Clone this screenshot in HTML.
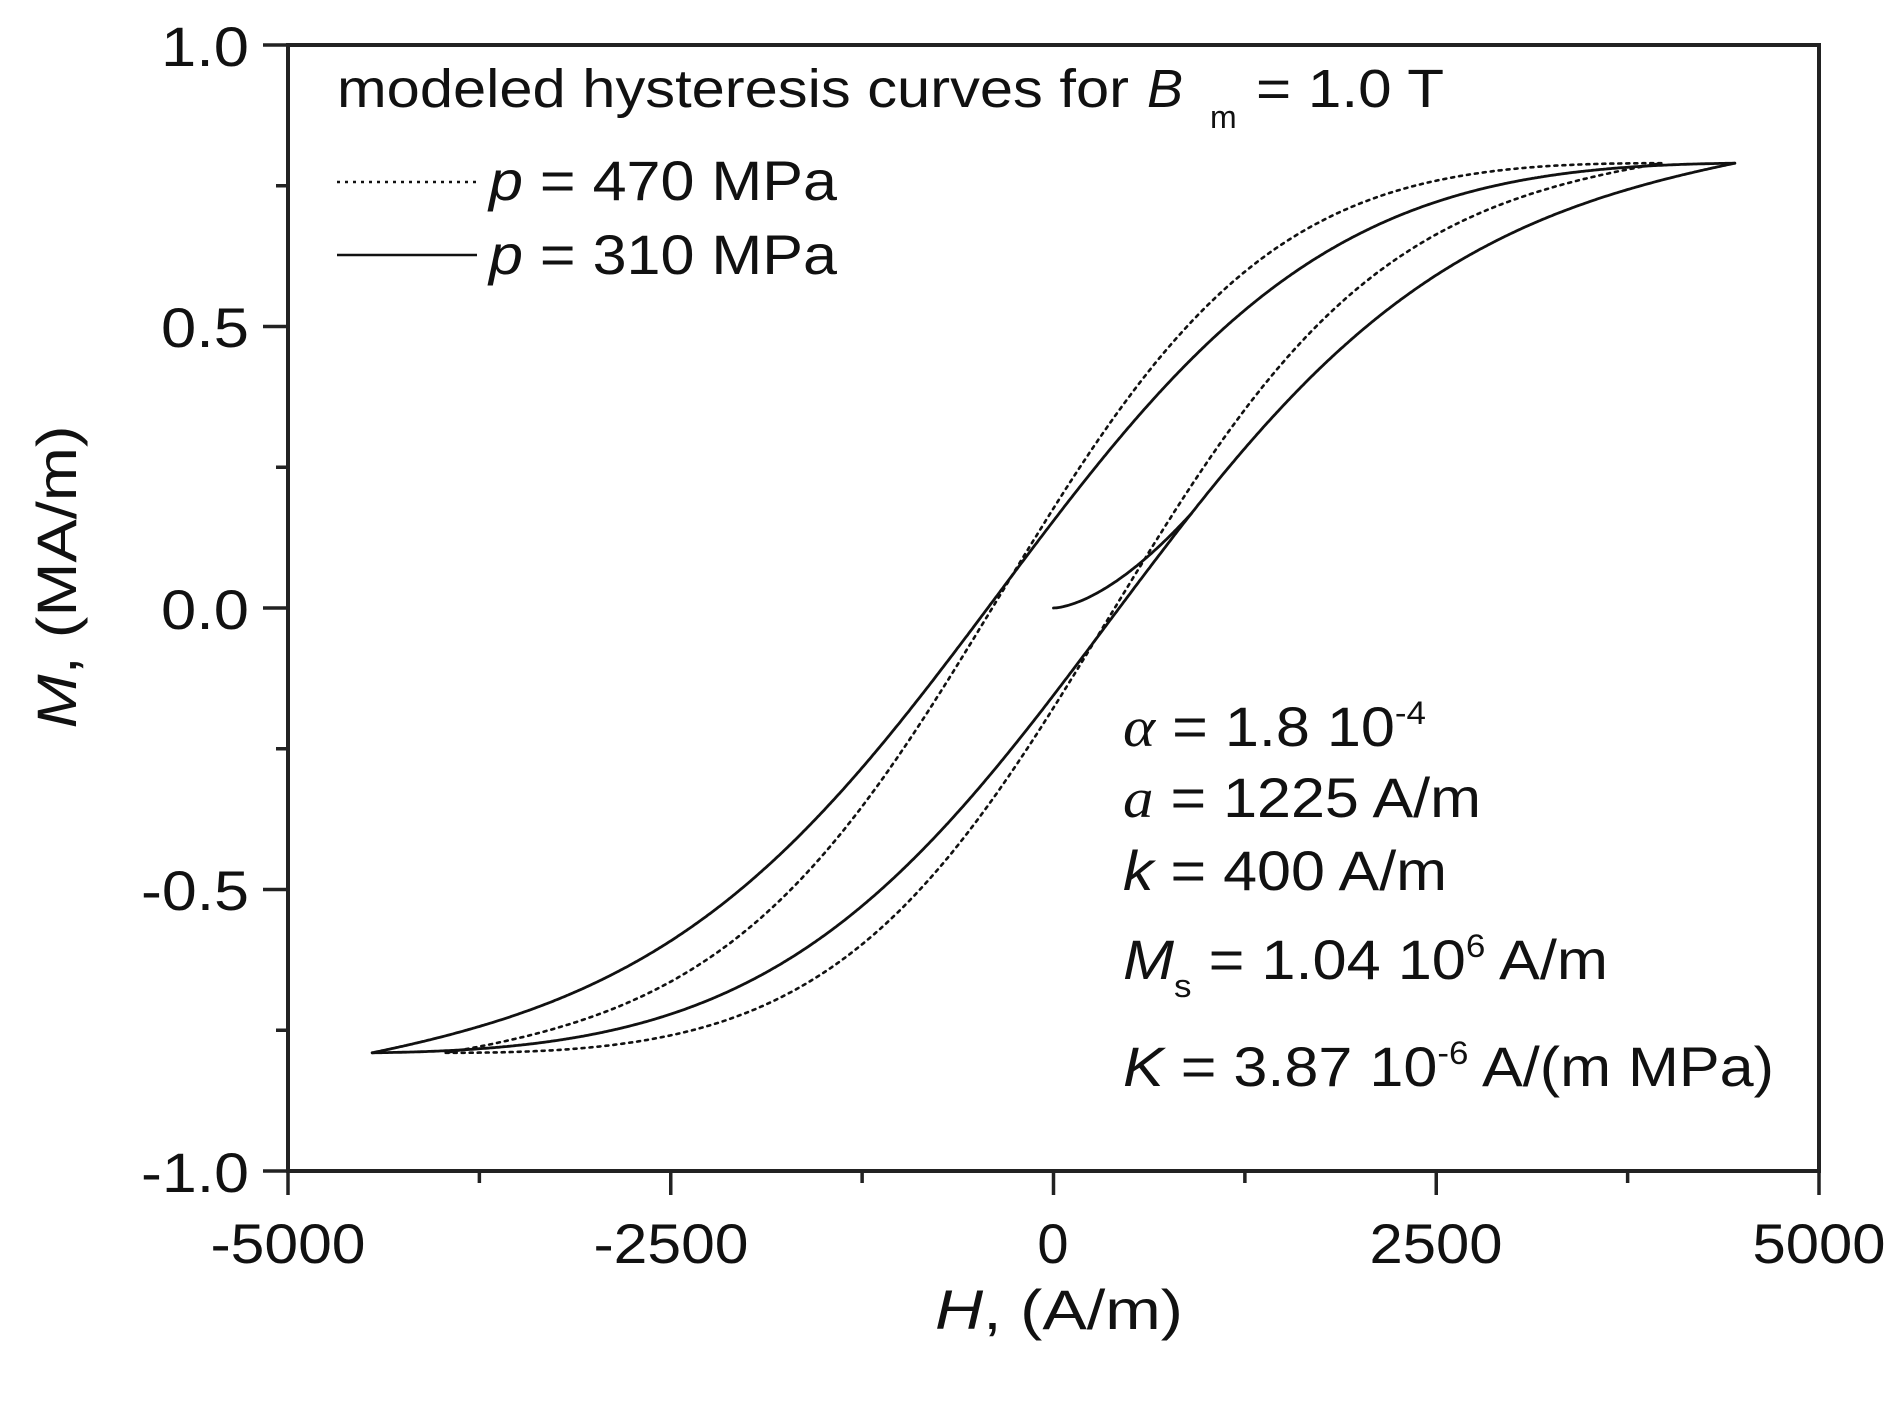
<!DOCTYPE html>
<html><head><meta charset="utf-8"><style>
html,body{margin:0;padding:0;background:#fff;}
svg{display:block;}
text{font-family:"Liberation Sans",Arial,sans-serif;fill:#111;}
</style></head><body>
<svg id="s" width="1903" height="1402" viewBox="0 0 1903 1402" xmlns="http://www.w3.org/2000/svg">
<rect x="0" y="0" width="1903" height="1402" fill="#fff"/>
<g id="curves" fill="none" stroke="#111" stroke-linejoin="round" stroke-linecap="round"></g>
<rect x="288" y="45" width="1531" height="1126" fill="none" stroke="#222" stroke-width="4"/>
<g stroke="#222" stroke-width="3.5" id="ticks"></g>
<g font-size="56" text-anchor="end">
<text x="249" y="66" textLength="88" lengthAdjust="spacingAndGlyphs">1.0</text>
<text x="249" y="347" textLength="88" lengthAdjust="spacingAndGlyphs">0.5</text>
<text x="249" y="629" textLength="88" lengthAdjust="spacingAndGlyphs">0.0</text>
<text x="249" y="910" textLength="108" lengthAdjust="spacingAndGlyphs">-0.5</text>
<text x="249" y="1192" textLength="108" lengthAdjust="spacingAndGlyphs">-1.0</text>
</g>
<g font-size="56" text-anchor="middle">
<text x="288" y="1263" textLength="155" lengthAdjust="spacingAndGlyphs">-5000</text>
<text x="671" y="1263" textLength="155" lengthAdjust="spacingAndGlyphs">-2500</text>
<text x="1053" y="1263">0</text>
<text x="1436" y="1263" textLength="133" lengthAdjust="spacingAndGlyphs">2500</text>
<text x="1819" y="1263" textLength="133" lengthAdjust="spacingAndGlyphs">5000</text>
</g>
<text x="935" y="1329" font-size="56" textLength="248" lengthAdjust="spacingAndGlyphs"><tspan font-style="italic">H</tspan>, (A/m)</text>
<text transform="translate(76,577) rotate(-90)" font-size="56" text-anchor="middle" textLength="303" lengthAdjust="spacingAndGlyphs"><tspan font-style="italic">M</tspan>, (MA/m)</text>
<text x="337" y="107" font-size="54" textLength="792" lengthAdjust="spacingAndGlyphs">modeled hysteresis curves for</text>
<text x="1147" y="107" font-size="54" font-style="italic">B</text>
<text x="1210" y="128" font-size="32">m</text>
<text x="1256" y="107" font-size="54" textLength="188" lengthAdjust="spacingAndGlyphs">= 1.0 T</text>
<line x1="337" y1="182" x2="477" y2="182" stroke="#111" stroke-width="2.5" stroke-dasharray="3 5"/>
<line x1="337" y1="255" x2="477" y2="255" stroke="#111" stroke-width="2.5"/>
<text x="489" y="200" font-size="56" textLength="348" lengthAdjust="spacingAndGlyphs"><tspan font-style="italic">p</tspan> = 470 MPa</text>
<text x="489" y="274" font-size="56" textLength="348" lengthAdjust="spacingAndGlyphs"><tspan font-style="italic">p</tspan> = 310 MPa</text>
<g font-size="56">
<text x="1123" y="746" textLength="303" lengthAdjust="spacingAndGlyphs"><tspan font-family="Liberation Serif" font-style="italic">α</tspan> = 1.8 10<tspan font-size="32" dy="-22">-4</tspan></text>
<text x="1123" y="817" textLength="358" lengthAdjust="spacingAndGlyphs"><tspan font-family="Liberation Serif" font-style="italic">a</tspan> = 1225 A/m</text>
<text x="1123" y="890" textLength="324" lengthAdjust="spacingAndGlyphs"><tspan font-style="italic">k</tspan> = 400 A/m</text>
<text x="1123" y="979" textLength="485" lengthAdjust="spacingAndGlyphs"><tspan font-style="italic">M</tspan><tspan font-size="32" dy="18">s</tspan><tspan dy="-18"> = 1.04 10</tspan><tspan font-size="32" dy="-22">6</tspan><tspan dy="22"> A/m</tspan></text>
<text x="1123" y="1086" textLength="651" lengthAdjust="spacingAndGlyphs"><tspan font-style="italic">K</tspan> = 3.87 10<tspan font-size="32" dy="-22">-6</tspan><tspan dy="22"> A/(m MPa)</tspan></text>
</g>
</svg>
<script>
(function(){
var NS="http://www.w3.org/2000/svg";
function X(h){return 288+(h+5000)*0.1531;}
function Y(m){return 608-m*563;}
function th(x){return Math.tanh(x);}
function mk(c,w,h0,hm,mt,B){
 var raw=function(h){return c*th((h-h0)/w);};
 var eR=mt-raw(hm),eL=-mt-raw(-hm);
 return function(h){var s=(h+hm)/(2*hm);return raw(h)+s*eR+(1-s)*eL-B*s*s*(1-s);};
}
var g=document.getElementById("curves");
function add(pts,dash){
 var e=document.createElementNS(NS,"path");
 var d="";for(var i=0;i<pts.length;i++)d+=(i?"L":"M")+pts[i][0].toFixed(1)+","+pts[i][1].toFixed(1);
 e.setAttribute("d",d);
 e.setAttribute("stroke-width",dash?"2.6":"2.8");
 if(dash)e.setAttribute("stroke-dasharray","3 5");
 g.appendChild(e);
}
function loop(f,hm,dash){
 var asc=[],desc=[];
 for(var h=-hm;h<=hm+0.1;h+=10){asc.push([X(h),Y(f(h))]);}
 for(h=hm;h>=-hm-0.1;h-=10){desc.push([X(h),Y(-f(-h))]);}
 add(asc,dash);add(desc,dash);
}
var fs=mk(0.95,2400,330,4450,0.79,0.3);
var fd=mk(0.90,1900,340,3970,0.79,0.22);
loop(fs,4450,false);
loop(fd,3970,true);
var m1=fs(900),ip=[];
for(var h=0;h<=900;h+=10)ip.push([X(h),Y(m1*Math.pow(h/900,1.6))]);
add(ip,false);
var t=document.getElementById("ticks");
function ln(x1,y1,x2,y2){var e=document.createElementNS(NS,"line");e.setAttribute("x1",x1);e.setAttribute("y1",y1);e.setAttribute("x2",x2);e.setAttribute("y2",y2);t.appendChild(e);}
for(var i=0;i<=8;i++){var x=288+i*1531/8;ln(x,1171,x,i%2?1183:1195);}
for(var j=0;j<=8;j++){var y=45+j*1126/8;ln(288,y,j%2?276:263,y);}
})();
</script>
</body></html>
